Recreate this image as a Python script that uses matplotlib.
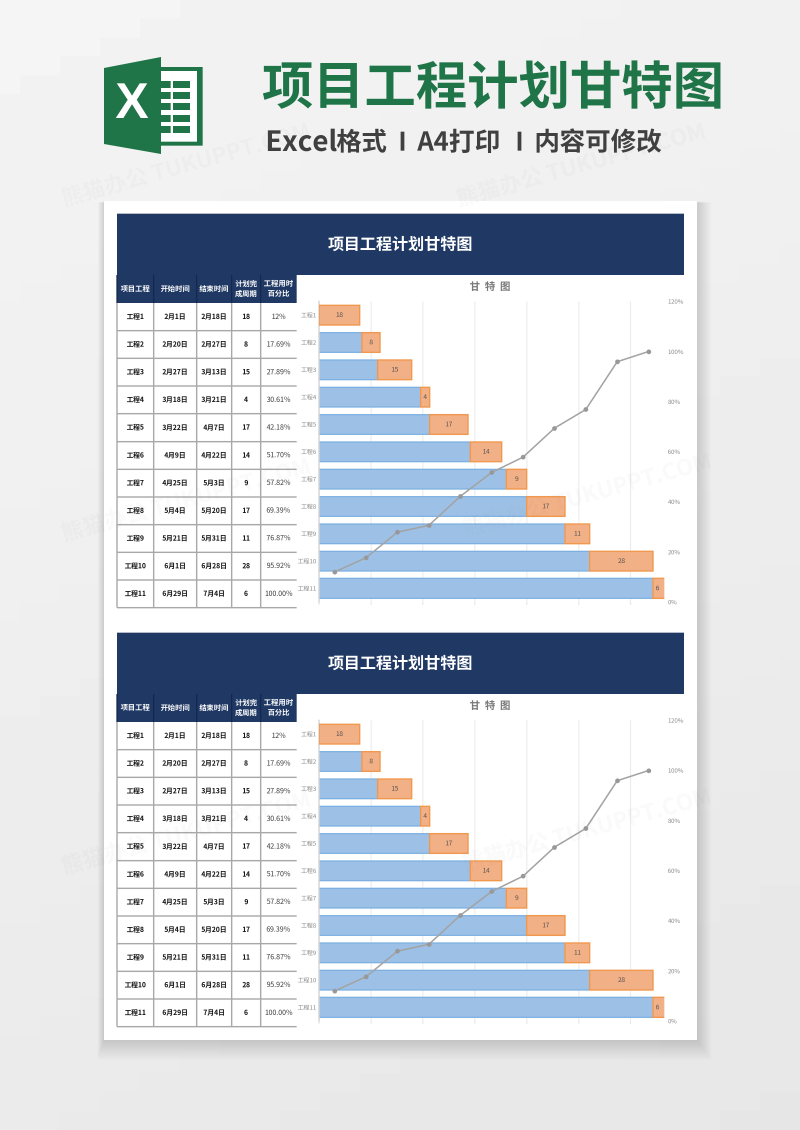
import io
import numpy as np
import matplotlib
matplotlib.use("Agg")
import matplotlib.pyplot as plt
from matplotlib.patches import Rectangle, Polygon

plt.rcParams['font.family'] = ['Noto Sans CJK SC', 'DejaVu Sans']

names = ['工程1','工程2','工程3','工程4','工程5','工程6','工程7','工程8','工程9','工程10','工程11']
start_labels = ['2月1日','2月20日','2月27日','3月18日','3月22日','4月9日','4月25日','5月4日','5月21日','6月1日','6月29日']
end_labels = ['2月18日','2月27日','3月13日','3月21日','4月7日','4月22日','5月3日','5月20日','5月31日','6月28日','7月4日']
start_days = [0,19,26,45,49,67,83,92,109,120,148]
durations = [18,8,15,4,17,14,9,17,11,28,6]
pct_labels = ['12%','17.69%','27.89%','30.61%','42.18%','51.70%','57.82%','69.39%','76.87%','95.92%','100.00%']
pct_values = [12,17.69,27.89,30.61,42.18,51.70,57.82,69.39,76.87,95.92,100]
headers = ['项目工程','开始时间','结束时间','计划完\n成周期','工程用时\n百分比']
pct_ticks = [0,20,40,60,80,100,120]
day_ticks = [0,23,46,69,92,115,138]

W, H = 800, 1130
fig = plt.figure(figsize=(W/100, H/100), dpi=100)
bg = fig.add_axes([0,0,1,1], zorder=0)
bg.axis('off')

# page background
yy, xx = np.mgrid[0:1:60j, 0:1:40j]
bg.imshow(0.96-0.055*(0.75*yy+0.25*xx), cmap='gray', vmin=0, vmax=1, extent=[0,W,H,0], aspect='auto', zorder=0)

# card with soft shadow
for k in range(18, 0, -1):
    bg.add_patch(Rectangle((104-k*0.35, 201+k*0.1), 593+k*1.15, 839+k*1.0, fc='k', ec='none', alpha=0.006, zorder=1))
bg.add_patch(Rectangle((104,201), 593, 839, fc='white', ec='none', zorder=2))

# logo
GREEN = '#1f7547'
bg.add_patch(Rectangle((161,67), 41.5, 78.5, fc=GREEN, ec='none', zorder=3))
bg.add_patch(Rectangle((161,71), 36, 70.5, fc='white', ec='none', zorder=3))
bg.add_patch(Polygon([(104,68),(161,57),(161,154),(104,144)], fc=GREEN, ec='none', zorder=4))
for top, bot in [(81,88),(92,99),(103,110),(115,122),(126,133)]:
    bg.add_patch(Rectangle((161,top), 9.5, bot-top, fc=GREEN, ec='none', zorder=4))
    bg.add_patch(Rectangle((173,top), 17, bot-top, fc=GREEN, ec='none', zorder=4))
bg.text(132, 105, 'X', color='white', fontsize=36, fontweight='bold', ha='center', va='center',
        family=['Liberation Sans Narrow', 'Liberation Sans'], zorder=5)

# heading
bg.text(493, 89, '项目工程计划甘特图', color=GREEN, fontsize=37, fontweight='bold', ha='center', va='center', zorder=5)
SUB = '#404040'
for x, s, fs in [(265,'Excel',20),(336,'格式',18.3),(398,'I',18.3),(417,'A4打印',18.6),(515,'I',18.3),(534,'内容可修改',18.4)]:
    bg.text(x, 143, s, color=SUB, fontsize=fs, fontweight='bold', ha='left', va='center', zorder=5)

NAVY = '#1f3864'
NAVY_LINE = '#14284e'
GRID = '#a8a8a8'
col_x = [117,153.5,196.5,231.5,260.5,296.5]
HDR_H = 28
ROW_H = 27.7

def panel(dy):
    bg.add_patch(Rectangle((117,213.5+dy), 567, 61.5, fc=NAVY, ec='none', zorder=3))
    bg.text(400, 245+dy, '项目工程计划甘特图', color='white', fontsize=11.6, fontweight='bold', ha='center', va='center', zorder=5)
    top = 275+dy
    bg.add_patch(Rectangle((117,top), col_x[-1]-117, HDR_H, fc=NAVY, ec='none', zorder=3))
    for i, h in enumerate(headers):
        cx = (col_x[i]+col_x[i+1])/2
        bg.text(cx, top+HDR_H/2, h, color='white', fontsize=5.3, fontweight='bold', ha='center', va='center', linespacing=1.35, zorder=5)
    for x in col_x[:-1]:
        bg.plot([x,x],[top,top+HDR_H], color=NAVY_LINE, lw=0.9, solid_capstyle='butt', zorder=4)
    y0 = top+HDR_H
    for r in range(len(names)):
        cy = y0+ROW_H*(r+0.5)
        cells = [names[r], start_labels[r], end_labels[r], str(durations[r]), pct_labels[r]]
        for c, s in enumerate(cells):
            cx = (col_x[c]+col_x[c+1])/2
            if c == 4:
                bg.text(cx, cy, s, color='#3c3c3c', fontsize=5.1, ha='center', va='center', zorder=5)
            else:
                bg.text(cx, cy, s, color='#111111', fontsize=4.9, fontweight='bold', ha='center', va='center', zorder=5)
    for r in range(1, len(names)+1):
        y = y0+ROW_H*r
        bg.plot([117,296.5],[y,y], color=GRID, lw=1.0, solid_capstyle='butt', zorder=4)
    for x in col_x[:-1]:
        bg.plot([x,x],[y0,y0+ROW_H*len(names)], color=GRID, lw=1.0, solid_capstyle='butt', zorder=4)

    # chart title
    bg.text(490, 287+dy, '甘  特  图', color='#7a7a7a', fontsize=7.5, fontweight='bold', ha='center', va='center', zorder=5)

    # bars
    L, R, T, B = 319, 664.3, 301.4+dy, 602+dy
    rect = [L/W, 1-B/H, (R-L)/W, (B-T)/H]
    ax = fig.add_axes(rect, zorder=1)
    ax.patch.set_alpha(0)
    ypos = np.arange(len(names))
    ax.barh(ypos, start_days, height=0.72, color='#9dc1e6', edgecolor='#7cb0e2', linewidth=0.9, zorder=2)
    ax.barh(ypos, durations, left=start_days, height=0.72, color='#f3b086', edgecolor='#f2994f', linewidth=1.0, zorder=3)
    for i, (s, d) in enumerate(zip(start_days, durations)):
        ax.text(min(s+d/2, 153-d/2), i, str(d), color='#555555', fontsize=4.8, ha='center', va='center', zorder=4)
    ax.set_xlim(0,153)
    ax.set_ylim(len(names)-0.5,-0.5)
    ax.set_xticks(day_ticks)
    ax.tick_params(axis='x', length=2, color='#e6e6e6', labelbottom=False)
    ax.set_yticks(ypos, names)
    ax.tick_params(axis='y', length=0, pad=2.0, labelsize=4.4, labelcolor='#8a8a8a')
    ax.grid(axis='x', color='#ececec', lw=0.8, zorder=0)
    ax.set_axisbelow(True)
    for s in ['top','right','bottom']:
        ax.spines[s].set_visible(False)
    ax.spines['left'].set_color('#d4d4d4'); ax.spines['left'].set_linewidth(1.0)

    # cumulative percentage line
    ax2 = fig.add_axes(rect, zorder=2)
    ax2.patch.set_alpha(0)
    ax2.plot(ypos, pct_values, color='#a3a3a3', lw=1.1, marker='o', ms=2.4, mfc='#999999', mec='#999999', zorder=5)
    ax2.set_xlim(-0.5,10.5)
    ax2.set_ylim(0,120)
    ax2.set_xticks([])
    ax2.yaxis.tick_right()
    ax2.set_yticks(pct_ticks, [f'{p}%' for p in pct_ticks])
    ax2.tick_params(axis='y', length=0, pad=2.5, labelsize=4.4, labelcolor='#8a8a8a')
    for s in ax2.spines.values():
        s.set_visible(False)

panel(0)
panel(419)
bg.set_xlim(0,W); bg.set_ylim(H,0)

# watermark
wm = fig.add_axes([0,0,1,1], zorder=5)
wm.set_xlim(0,W); wm.set_ylim(H,0); wm.axis('off'); wm.patch.set_alpha(0)
for x, y in [(62,200),(457,200),(62,535),(463,530),(62,868),(463,865)]:
    wm.text(x, y, '熊猫办公 TUKUPPT.COM', color=(0.45,0.45,0.5,0.04), fontsize=16, fontweight='bold',
            rotation=15.5, rotation_mode='anchor', ha='left', va='center')

# render at 3x and average down: small CJK labels stay legible at this size
S = 3
buf = io.BytesIO()
fig.savefig(buf, dpi=100*S, format='png')
buf.seek(0)
img = plt.imread(buf)[:H*S, :W*S, :3]
small = img.reshape(H, S, W, S, 3).mean(axis=(1, 3))
plt.imsave('out.png', small)
